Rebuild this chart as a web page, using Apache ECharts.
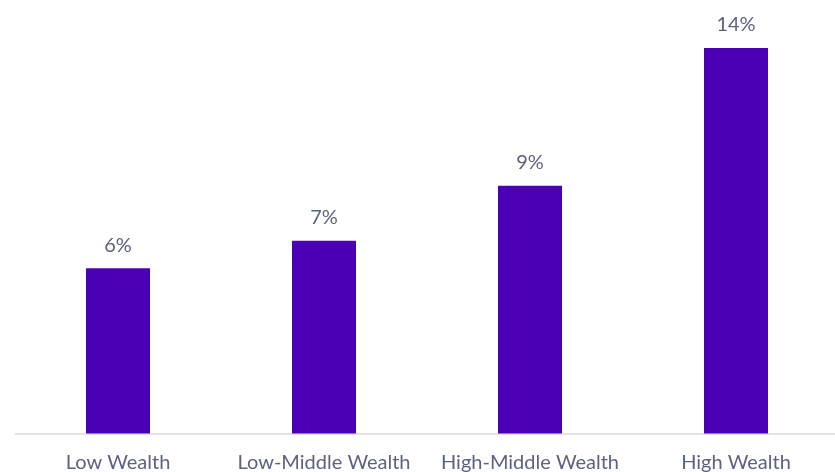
<!DOCTYPE html>
<html>
<head>
<meta charset="utf-8">
<script src="https://cdn.jsdelivr.net/npm/echarts@6/dist/echarts.min.js"></script>
<style>html,body{margin:0;padding:0;background:#fff}#c{width:835px;height:472px}</style>
</head>
<body>
<div id="c"></div>
<script>
const categories = ['Low Wealth', 'Low-Middle Wealth', 'High-Middle Wealth', 'High Wealth'];
const values = [6, 7, 9, 14];

const chart = echarts.init(document.getElementById('c'), null, {renderer: 'canvas'});
chart.setOption({
  animation: false,
  grid: {left: 15, width: 824, top: 48, bottom: 38.5, outerBoundsMode: 'none', containLabel: false},
  xAxis: {
    type: 'category',
    data: categories,
    axisLine: {show: true, lineStyle: {color: '#e3e3ea', width: 2}},
    axisTick: {show: false},
    axisLabel: {interval: 0, color: '#5d6280', fontSize: 20, fontFamily: 'Lato', margin: 19}
  },
  yAxis: {
    type: 'value', min: 0, max: 14, show: false,
    splitLine: {show: false}
  },
  series: [{
    type: 'bar',
    data: values,
    barWidth: 64,
    itemStyle: {color: '#4c00b6'},
    label: {
      show: true, position: 'top', distance: 13,
      formatter: p => p.value + '%',
      color: '#5d6280', fontSize: 20, fontFamily: 'Lato'
    }
  }]
});
</script>
</body>
</html>
